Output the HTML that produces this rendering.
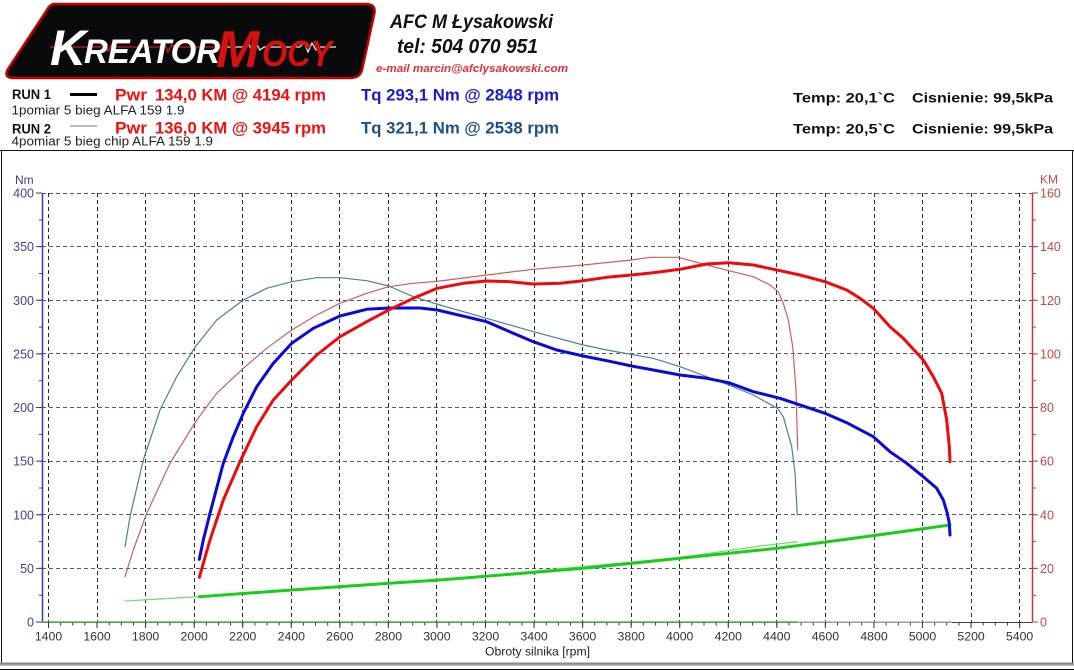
<!DOCTYPE html>
<html>
<head>
<meta charset="utf-8">
<style>
html,body{margin:0;padding:0;background:#fff;}
svg{display:block;}
</style>
</head>
<body>
<svg width="1074" height="671" viewBox="0 0 1074 671" xmlns="http://www.w3.org/2000/svg" font-family="Liberation Sans, Arial, sans-serif">
<rect x="0" y="0" width="1074" height="671" fill="#fff"/>

<!-- LOGO -->
<path d="M55,4 L366,4 Q377,4 374,15 L362,70 Q360,78 350,78 L14,78 Q3,78 8,69 L47,10 Q50,4 55,4 Z" fill="#0a0a0a" stroke="#c40000" stroke-width="2.5"/>
<polyline points="50,47 100,47 104,43 108,51 112,44 116,47 160,47 164,42 168,52 172,45 176,47 226,47" fill="none" stroke="#d41818" stroke-width="1.3"/>
<polyline points="226,47 244,47 248,42 252,52 256,43 260,50 264,47 300,47 304,42 308,52 312,43 316,50 320,47 336,47" fill="none" stroke="#e8e8e8" stroke-width="1.3"/>
<text x="50" y="65" font-size="50" font-style="italic" font-weight="bold" fill="#ffffff">K</text>
<text x="84" y="63" font-size="34" font-style="italic" font-weight="bold" fill="#ffffff" textLength="136" lengthAdjust="spacingAndGlyphs">REATOR</text>
<text x="216" y="67" font-size="52" font-style="italic" font-weight="bold" fill="#d41010">M</text>
<text x="262" y="66" font-size="36" font-style="italic" font-weight="bold" fill="#d41010" textLength="70" lengthAdjust="spacingAndGlyphs">OCY</text>

<!-- HEADER TEXT -->
<text x="390" y="28" font-size="19" font-style="italic" font-weight="bold" fill="#111" textLength="163" lengthAdjust="spacingAndGlyphs">AFC M Łysakowski</text>
<text x="397" y="53" font-size="20" font-style="italic" font-weight="bold" fill="#111" textLength="141" lengthAdjust="spacingAndGlyphs">tel: 504 070 951</text>
<text x="376" y="72" font-size="11" font-style="italic" font-weight="bold" fill="#e0303a" textLength="192" lengthAdjust="spacingAndGlyphs">e-mail marcin@afclysakowski.com</text>

<!-- RUN LEGEND -->
<text x="12" y="99" font-size="13.5" font-weight="bold" fill="#111" textLength="39" lengthAdjust="spacingAndGlyphs">RUN 1</text>
<line x1="70" y1="94.5" x2="97" y2="94.5" stroke="#000" stroke-width="3"/>
<text x="115" y="100.5" font-size="17" font-weight="bold" fill="#ee1111" textLength="32" lengthAdjust="spacingAndGlyphs">Pwr</text>
<text x="155" y="100.5" font-size="17" font-weight="bold" fill="#ee1111" textLength="171" lengthAdjust="spacingAndGlyphs">134,0 KM @ 4194 rpm</text>
<text x="361" y="100.5" font-size="17" font-weight="bold" fill="#1a1ad0" textLength="198" lengthAdjust="spacingAndGlyphs">Tq 293,1 Nm @ 2848 rpm</text>
<text x="11.5" y="114.3" font-size="13.3" fill="#222" textLength="173" lengthAdjust="spacingAndGlyphs">1pomiar 5 bieg ALFA 159 1.9</text>

<text x="12" y="133.5" font-size="13.5" font-weight="bold" fill="#111" textLength="39" lengthAdjust="spacingAndGlyphs">RUN 2</text>
<line x1="70" y1="126" x2="97" y2="126" stroke="#777" stroke-width="1"/>
<text x="115" y="133.7" font-size="17" font-weight="bold" fill="#ee1111" textLength="32" lengthAdjust="spacingAndGlyphs">Pwr</text>
<text x="155" y="133.7" font-size="17" font-weight="bold" fill="#ee1111" textLength="171" lengthAdjust="spacingAndGlyphs">136,0 KM @ 3945 rpm</text>
<text x="361" y="133.7" font-size="17" font-weight="bold" fill="#1f4f8a" textLength="198" lengthAdjust="spacingAndGlyphs">Tq 321,1 Nm @ 2538 rpm</text>
<text x="11.5" y="145.5" font-size="13.3" fill="#222" textLength="201.5" lengthAdjust="spacingAndGlyphs">4pomiar 5 bieg chip ALFA 159 1.9</text>

<text x="793" y="102.5" font-size="14" font-weight="bold" fill="#111" textLength="102" lengthAdjust="spacingAndGlyphs">Temp: 20,1`C</text>
<text x="912" y="102.5" font-size="14" font-weight="bold" fill="#111" textLength="141" lengthAdjust="spacingAndGlyphs">Cisnienie: 99,5kPa</text>
<text x="793" y="133.3" font-size="14" font-weight="bold" fill="#111" textLength="102" lengthAdjust="spacingAndGlyphs">Temp: 20,5`C</text>
<text x="912" y="133.3" font-size="14" font-weight="bold" fill="#111" textLength="141" lengthAdjust="spacingAndGlyphs">Cisnienie: 99,5kPa</text>

<!-- FRAME -->
<line x1="0" y1="150.5" x2="1074" y2="150.5" stroke="#111" stroke-width="1"/>
<line x1="1.5" y1="150" x2="1.5" y2="666" stroke="#111" stroke-width="1"/>
<line x1="1072.5" y1="150" x2="1072.5" y2="666" stroke="#111" stroke-width="1"/>
<rect x="0" y="662.5" width="1074" height="2" fill="#8a8a8a"/>
<rect x="0" y="664.5" width="1074" height="1.5" fill="#b0b0b0"/>
<line x1="0" y1="669.5" x2="1074" y2="669.5" stroke="#111" stroke-width="1"/>

<!-- GRID -->
<path d="M42,193.5H1032 M42,246.5H1032 M42,300.5H1032 M42,353.5H1032 M42,407.5H1032 M42,461.5H1032 M42,514.5H1032 M42,568.5H1032" stroke="#55557e" stroke-width="1" stroke-dasharray="4 3" fill="none"/>
<path d="M48.5,193V622 M97.5,193V622 M145.5,193V622 M194.5,193V622 M242.5,193V622 M291.5,193V622 M339.5,193V622 M388.5,193V622 M436.5,193V622 M485.5,193V622 M534.5,193V622 M582.5,193V622 M631.5,193V622 M679.5,193V622 M728.5,193V622 M776.5,193V622 M825.5,193V622 M874.5,193V622 M922.5,193V622 M971.5,193V622 M1019.5,193V622" stroke="#2a2a2a" stroke-width="1" stroke-dasharray="4 3" fill="none"/>

<!-- AXES -->
<line x1="42.5" y1="193" x2="42.5" y2="622" stroke="#3a3a9a" stroke-width="1.5"/>
<line x1="1032.5" y1="193" x2="1032.5" y2="622" stroke="#c03a3a" stroke-width="1.5"/>
<line x1="42" y1="622.5" x2="1032" y2="622.5" stroke="#444" stroke-width="1"/>
<line x1="42" y1="622" x2="797" y2="622" stroke="#5cbf5c" stroke-width="1.6"/>
<line x1="797" y1="622" x2="952" y2="622" stroke="#bcbcbc" stroke-width="1.6"/>

<!-- ticks x -->
<line x1="48" y1="624" x2="1031" y2="624" stroke="#333" stroke-width="3" stroke-dasharray="1 11.139"/>
<line x1="48" y1="625" x2="1021" y2="625" stroke="#333" stroke-width="6" stroke-dasharray="1 47.556"/>
<!-- ticks left -->
<line x1="40.5" y1="192.5" x2="40.5" y2="623" stroke="#3a3a9a" stroke-width="3" stroke-dasharray="1 25.8125"/>
<line x1="39" y1="192.5" x2="39" y2="623" stroke="#3a3a9a" stroke-width="6" stroke-dasharray="1 52.625"/>
<!-- ticks right -->
<line x1="1034.5" y1="192.5" x2="1034.5" y2="623" stroke="#c03a3a" stroke-width="3" stroke-dasharray="1 25.8125"/>
<line x1="1035" y1="192.5" x2="1035" y2="623" stroke="#c03a3a" stroke-width="6" stroke-dasharray="1 52.625"/>

<!-- left labels -->
<g font-size="12.5" fill="#3f3f95" text-anchor="end">
<text x="34" y="197.5">400</text>
<text x="34" y="251">350</text>
<text x="34" y="304.8">300</text>
<text x="34" y="358.4">250</text>
<text x="34" y="412">200</text>
<text x="34" y="465.6">150</text>
<text x="34" y="519.3">100</text>
<text x="34" y="572.9">50</text>
<text x="34" y="626.5">0</text>
</g>
<text x="15" y="184" font-size="12" fill="#3f3f95">Nm</text>
<!-- right labels -->
<g font-size="12.5" fill="#c04848">
<text x="1040" y="197.5">160</text>
<text x="1040" y="251">140</text>
<text x="1040" y="304.8">120</text>
<text x="1040" y="358.4">100</text>
<text x="1040" y="412">80</text>
<text x="1040" y="465.6">60</text>
<text x="1040" y="519.3">40</text>
<text x="1040" y="572.9">20</text>
<text x="1040" y="626.5">0</text>
</g>
<text x="1040" y="183.5" font-size="12" fill="#c04848">KM</text>

<!-- x labels -->
<g font-size="12.3" fill="#333" text-anchor="middle">
<text x="48.5" y="640.5">1400</text>
<text x="97" y="640.5">1600</text>
<text x="145.6" y="640.5">1800</text>
<text x="194.2" y="640.5">2000</text>
<text x="242.7" y="640.5">2200</text>
<text x="291.3" y="640.5">2400</text>
<text x="339.8" y="640.5">2600</text>
<text x="388.4" y="640.5">2800</text>
<text x="436.9" y="640.5">3000</text>
<text x="485.5" y="640.5">3200</text>
<text x="534.1" y="640.5">3400</text>
<text x="582.6" y="640.5">3600</text>
<text x="631.2" y="640.5">3800</text>
<text x="679.7" y="640.5">4000</text>
<text x="728.3" y="640.5">4200</text>
<text x="776.8" y="640.5">4400</text>
<text x="825.4" y="640.5">4600</text>
<text x="874" y="640.5">4800</text>
<text x="922.5" y="640.5">5000</text>
<text x="971.1" y="640.5">5200</text>
<text x="1019.6" y="640.5">5400</text>
</g>
<text x="485" y="655.7" font-size="12.2" fill="#222" textLength="105" lengthAdjust="spacingAndGlyphs">Obroty silnika [rpm]</text>

<!-- CURVES -->
<g fill="none" stroke-linejoin="round" stroke-linecap="round">
<!-- run2 loss thin green -->
<polyline stroke="#7ad67a" stroke-width="1.3" points="125,601 199,596.7 440,580 680,557.5 760,546 797.3,541.7"/>
<!-- run2 power thin -->
<polyline stroke="#c86060" stroke-width="1.2" points="125,576.7 133.3,550 146.7,513.3 170,463.3 196.7,420 216.7,393.3 243.3,368.3 266.7,348.3 291.7,330 316.7,315 340,303.3 366.7,293.3 388.7,286.7 413.3,283.3 440,281 486.7,275 533.3,269.3 583.3,265 631.7,260 650,257.3 678.3,257.3 706.7,265 728.7,270.7 753.3,276.7 770,285 778.3,291.7 783.3,303.3 788.3,320 792.7,346.7 796,390 797.7,450"/>
<!-- run2 torque thin -->
<polyline stroke="#4d7f9c" stroke-width="1.2" points="125,546.7 130,516.7 143.3,460 160,410 176.7,376.7 195.3,346.7 216.7,320 243.3,300 266.7,288.3 291.7,281.7 316.7,277.7 340,277.7 366.7,280.7 388.7,286 413.3,296.7 440,305 486.7,318.3 533.3,331.7 583.3,345 606.7,350 653.3,358.3 680,366.7 706.7,376.7 728.7,385 753.3,395 777.3,408.3 783.3,416.7 791.7,446.7 795,473.3 797.3,515"/>
<!-- run1 loss thick green -->
<polyline stroke="#1ccc1c" stroke-width="3" points="199.3,596.7 291.7,590 388.7,583.3 440,580 583.3,568.3 680,558.3 777.3,548.3 846.7,539.3 950,525"/>
<!-- run1 torque thick blue -->
<polyline stroke="#0a0ad8" stroke-width="3" points="199.3,559.3 203.3,540 210,513.3 223.3,463.3 233.3,436.7 243.3,413.3 256.7,386.7 273.3,363.3 291.7,343.3 313.3,328.3 340,316 366.7,309.3 388.7,308 420,308 437.3,310 486.7,321.7 513.3,333.3 533.3,341.7 556.7,350 583.3,356 606.7,360.7 631.7,366 653.3,370 680,375 706.7,378.3 728.7,382.7 753.3,391.7 780,398.3 825,413.3 846.7,422.7 873.3,436.7 890,451.7 906.7,463.3 923.3,476.7 936.7,488.3 943.3,500 947.3,513.3 949.3,523.3 950,535"/>
<!-- run1 power thick red -->
<polyline stroke="#ee0a0a" stroke-width="3" points="199.3,577.3 210,540 223.3,500 240,461.7 256.7,426.7 273.3,400 291.7,380 316.7,355 340,336.7 366.7,321.7 388.7,310 413.3,298.3 437.3,288.3 463.3,283.3 486.7,281 510,281.7 533.3,284 560,283.3 583.3,280.7 606.7,277.3 631.7,275 653.3,272.7 680,269.3 706.7,264 728.7,262.7 753.3,265 780,270.7 800,275 825,281.7 846.7,290 860,298.3 873.3,308.3 890,326.7 903.3,338.3 923.3,360 933.3,376.7 941.7,393.3 946.7,420 949.3,446.7 950,461.7"/>
</g>
</svg>
</body>
</html>
